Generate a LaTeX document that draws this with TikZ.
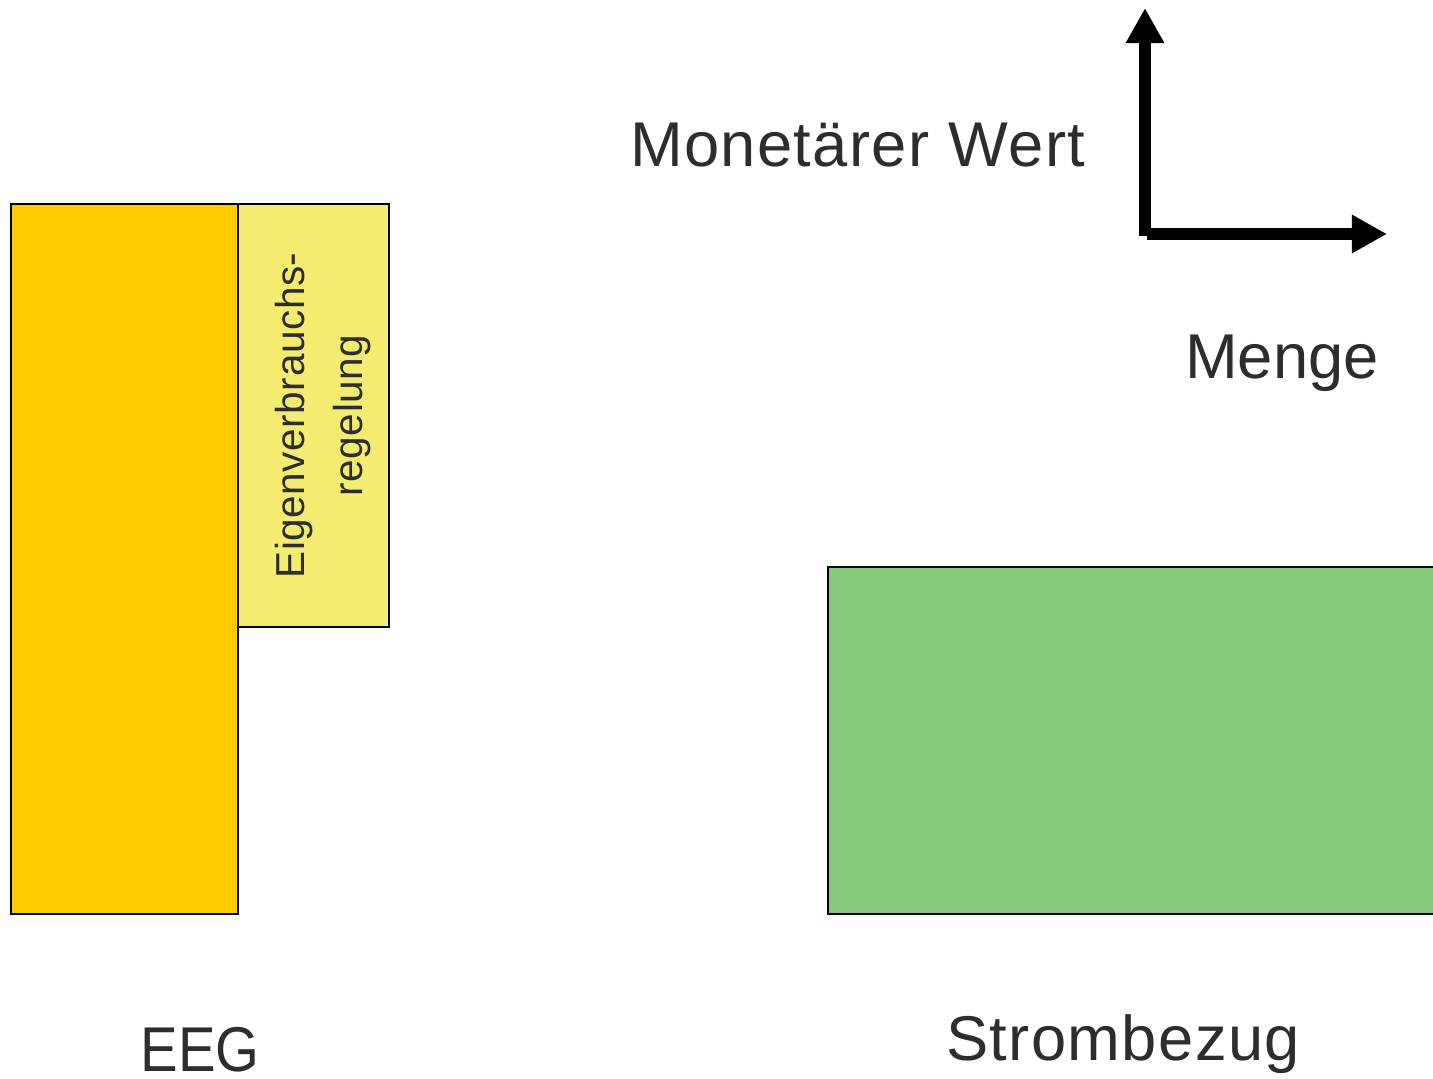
\documentclass[tikz,border=0pt]{standalone}
\usepackage{fontspec}
\setmainfont{Liberation Sans}
\newfontfamily\widesans[LetterSpace=2.2]{Liberation Sans}
\newfontfamily\narrowsans[LetterSpace=1.5]{Liberation Sans}
\usepackage{tikz}
\usetikzlibrary{arrows.meta,positioning}

\definecolor{eegorange}{RGB}{255,204,0}
\definecolor{eigyellow}{RGB}{243,236,112}
\definecolor{bezuggreen}{RGB}{134,200,124}
\definecolor{txtgray}{RGB}{45,45,45}

\tikzset{
	bar/.style={draw=black, line width=0.6pt, inner sep=0pt, rectangle},
	lbl/.style={text=txtgray, inner sep=0pt, font=\fontsize{18pt}{22pt}\selectfont},
	widelbl/.style={lbl, font=\fontsize{18pt}{22pt}\widesans},
	axis/.style={line width=3.4pt, -{Triangle[length=0.35cm,width=0.36cm]}}
}

\begin{document}
\begin{tikzpicture}[x=0.01cm,y=-0.01cm]
		\useasboundingbox (0,0) rectangle (1433,1079);

		% Define nodes
		\node[bar, fill=eegorange, minimum width=2.27cm, minimum height=7.10cm] (EEG) at (124.5,559) {};
		\node[bar, fill=eigyellow, minimum width=1.51cm, minimum height=4.23cm] (EVR) at (313.5,415.5) {};
		\node[bar, fill=bezuggreen, minimum width=6.12cm, minimum height=3.47cm] (SB) at (1134,740.5) {};
		\node[text=txtgray, rotate=90, align=center, yshift=-0.1cm,
			font=\fontsize{11.5pt}{16.5pt}\narrowsans] (EVRtxt) at (EVR) {Eigenverbrauchs-\\regelung};

		\node[lbl, anchor=base, xscale=0.89, text depth=0pt] (EEGlbl) at (200,1071) {EEG};
		\node[widelbl, anchor=base] (SBlbl) at (1123,1060) {Strombezug};
		\node[widelbl, anchor=base east] (wert) at (1086,167) {Monetärer Wert};
		\node[lbl, anchor=base] (menge) at (1282,378) {Menge};

		% Axes
		\coordinate (O) at (1145,234);
		\coordinate (Ytip) at (1145,8);
		\coordinate (Xtip) at (1387,234);
		\draw[axis] ([yshift=-0.02cm]O) -- (Ytip);
		\draw[axis] ([xshift=0.02cm]O) -- (Xtip);
	\end{tikzpicture}
\end{document}
